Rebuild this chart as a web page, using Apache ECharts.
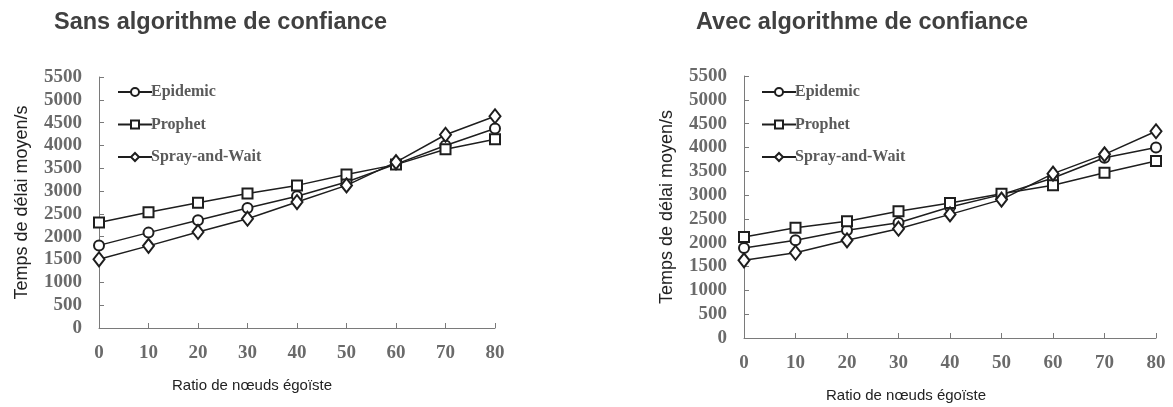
<!DOCTYPE html>
<html>
<head>
<meta charset="utf-8">
<script src="https://cdn.jsdelivr.net/npm/echarts@6/dist/echarts.min.js"></script>
<style>html,body{margin:0;padding:0;background:#fff}#c{width:1173px;height:407px}</style>
</head>
<body>
<div id="c"></div>
<script>
const ratios = [0, 10, 20, 30, 40, 50, 60, 70, 80];
const seriesNames = ['Epidemic', 'Prophet', 'Spray-and-Wait'];
const titles = ['Sans algorithme de confiance', 'Avec algorithme de confiance'];
const yAxisName = 'Temps de délai moyen/s';
const xAxisName = 'Ratio de nœuds égoïste';

// Sans algorithme de confiance
const sansEpidemic = [1810, 2090, 2360, 2630, 2885, 3200, 3590, 4000, 4370];
const sansProphet  = [2310, 2535, 2745, 2945, 3125, 3365, 3580, 3915, 4135];
const sansSpray    = [1505, 1800, 2105, 2395, 2760, 3125, 3635, 4235, 4640];

// Avec algorithme de confiance
const avecEpidemic = [1890, 2050, 2260, 2420, 2750, 3010, 3360, 3785, 4000];
const avecProphet  = [2120, 2315, 2450, 2660, 2835, 3030, 3205, 3470, 3715];
const avecSpray    = [1630, 1790, 2050, 2295, 2595, 2905, 3450, 3855, 4340];

const symbols = ['emptyCircle', 'emptyRect', 'emptyDiamond'];
const symbolSizes = [10, 10, [11, 14]];

const chart = echarts.init(document.getElementById('c'));

const tickLabel = {fontFamily: 'Liberation Serif', fontWeight: 'bold', fontSize: 19, color: '#6a6a6a'};
const axisLine = {lineStyle: {color: '#7a7a7a', width: 1}};

function mkSeries(name, idx, values, gridIdx) {
  return {
    name: name,
    type: 'line',
    xAxisIndex: gridIdx,
    yAxisIndex: gridIdx,
    data: ratios.map((r, i) => [r, values[i]]),
    symbol: symbols[idx],
    symbolSize: symbolSizes[idx],
    showAllSymbol: true,
    lineStyle: {color: '#1e1e1e', width: 1.5},
    itemStyle: {color: '#1e1e1e', borderWidth: 1.4},
    animation: false
  };
}

const grids = [
  {left: 99, right: 678, top: 77, bottom: 79},
  {left: 744, right: 17, top: 76, bottom: 69}
];

function mkX(i) {
  return {
    gridIndex: i, type: 'value', min: 0, max: 80, interval: 10,
    axisLine: axisLine,
    axisTick: {show: true, inside: true, length: 5, lineStyle: {color: '#7a7a7a'}},
    axisLabel: Object.assign({margin: 16, formatter: v => String(v)}, tickLabel),
    splitLine: {show: false}
  };
}
function mkY(i, nameGap) {
  return {
    gridIndex: i, type: 'value', min: 0, max: 5500, interval: 500,
    name: yAxisName, nameLocation: 'middle', nameGap: nameGap, nameRotate: 90,
    nameTextStyle: {fontFamily: 'Liberation Sans', fontSize: 18, color: '#222'},
    axisLine: {show: true, lineStyle: {color: '#7a7a7a', width: 1}},
    axisTick: {show: true, inside: true, length: 5, lineStyle: {color: '#7a7a7a'}},
    axisLabel: Object.assign({margin: 17, formatter: v => String(v)}, tickLabel),
    splitLine: {show: false}
  };
}

function mkLegend(left) {
  return {
    data: seriesNames,
    orient: 'vertical',
    left: left, top: 79,
    itemWidth: 34, itemHeight: 10, itemGap: 16.5,
    textStyle: {fontFamily: 'Liberation Serif', fontWeight: 'bold', fontSize: 16, color: '#5a5a5a', padding: [0, 0, 0, -6]},
    selectedMode: false
  };
}

const titleStyle = {fontFamily: 'Liberation Sans', fontWeight: 'bold', fontSize: 23.5, color: '#404040'};

const option = {
  backgroundColor: '#fff',
  animation: false,
  title: [
    {text: titles[0], left: 49, top: 6, textStyle: titleStyle},
    {text: titles[1], left: 691, top: 6, textStyle: titleStyle}
  ],
  legend: [mkLegend(112), mkLegend(756)],
  grid: grids,
  xAxis: [mkX(0), mkX(1)],
  yAxis: [mkY(0, 68), mkY(1, 68)],
  graphic: [
    {type: 'text', left: 172, top: 378, style: {text: xAxisName, font: '15px "Liberation Sans"', fill: '#222'}},
    {type: 'text', left: 826, top: 388, style: {text: xAxisName, font: '15px "Liberation Sans"', fill: '#222'}}
  ],
  series: [
    mkSeries(seriesNames[0], 0, sansEpidemic, 0),
    mkSeries(seriesNames[1], 1, sansProphet, 0),
    mkSeries(seriesNames[2], 2, sansSpray, 0),
    mkSeries(seriesNames[0], 0, avecEpidemic, 1),
    mkSeries(seriesNames[1], 1, avecProphet, 1),
    mkSeries(seriesNames[2], 2, avecSpray, 1)
  ]
};
chart.setOption(option);
</script>
</body>
</html>
